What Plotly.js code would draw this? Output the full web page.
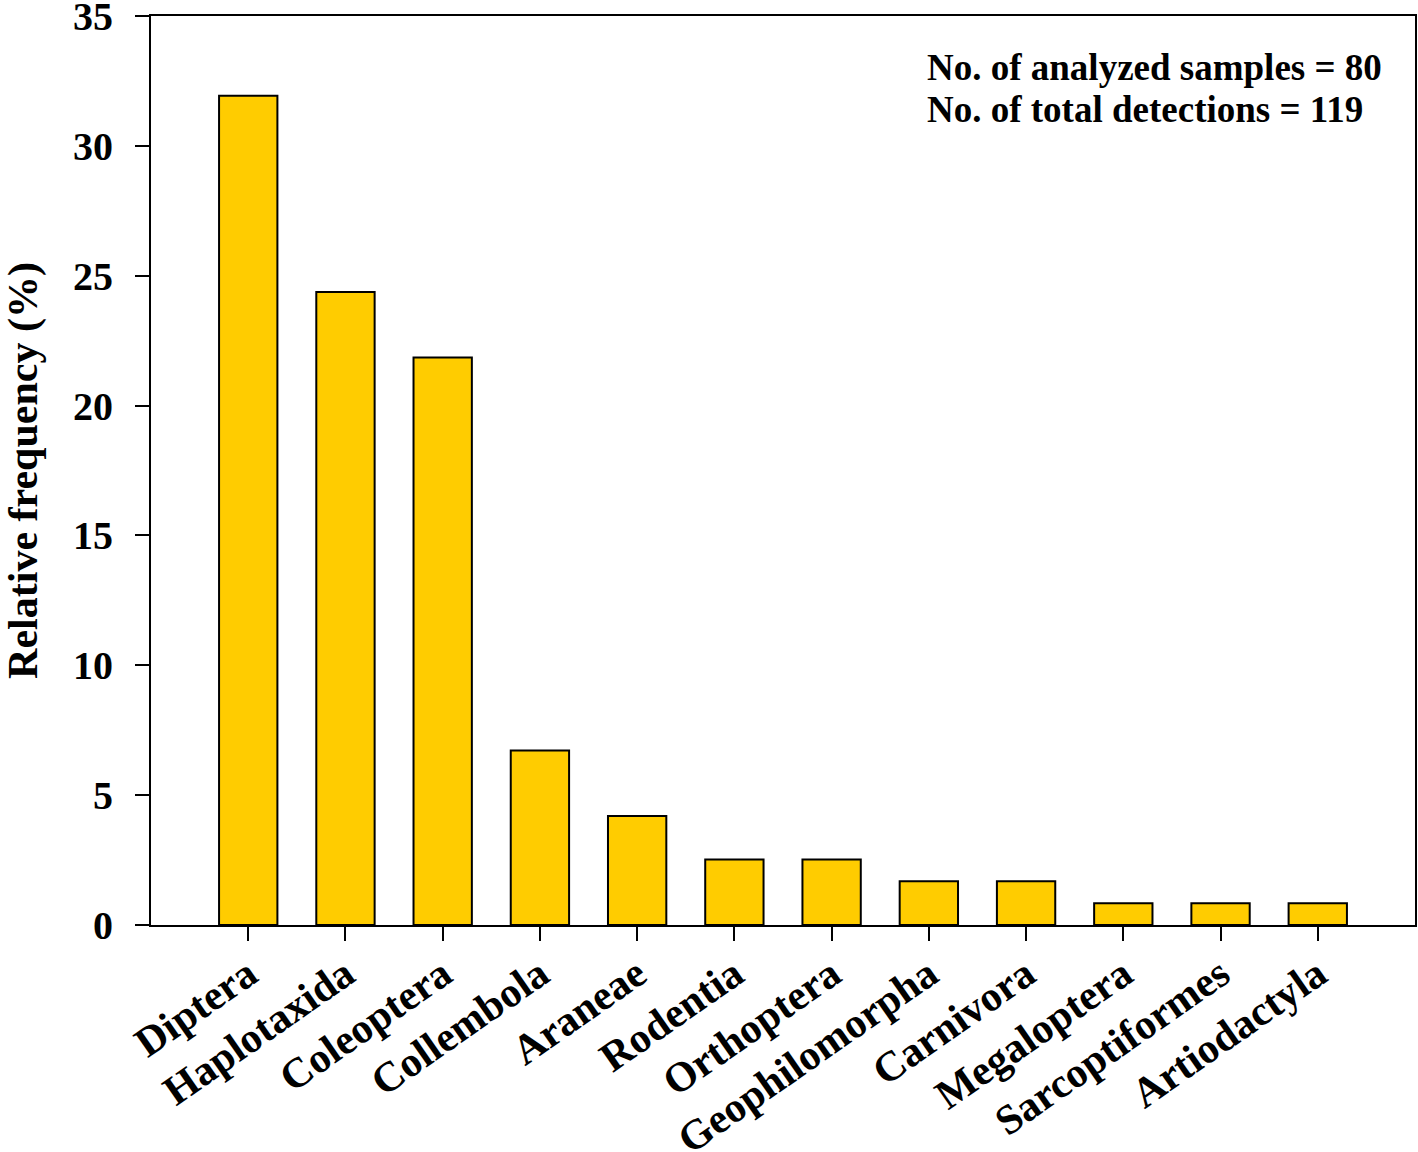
<!DOCTYPE html>
<html>
<head>
<meta charset="utf-8">
<script src="https://cdn.plot.ly/plotly-3.0.1.min.js"></script>
<style>html,body{margin:0;padding:0;background:#fff;}</style>
</head>
<body>
<div id="chart" style="width:1418px;height:1152px;"></div>
<script>
const categories = ["Diptera","Haplotaxida","Coleoptera","Collembola","Araneae","Rodentia","Orthoptera","Geophilomorpha","Carnivora","Megaloptera","Sarcoptiformes","Artiodactyla"];
const relFreq = [31.93, 24.37, 21.85, 6.72, 4.20, 2.52, 2.52, 1.68, 1.68, 0.84, 0.84, 0.84];
const yTicks = [0, 5, 10, 15, 20, 25, 30, 35];
const noteLines = ["No. of analyzed samples = 80", "No. of total detections = 119"];
const yTitle = "Relative frequency (%)";

const serif = "Liberation Serif, Times New Roman, serif";

const trace = {
  type: "bar",
  x: categories,
  y: relFreq,
  marker: {color: "#FFCC00", line: {color: "#000", width: 2}},
  hoverinfo: "x+y"
};

const layout = {
  width: 1418, height: 1152,
  margin: {l: 151, r: 3, t: 16, b: 227},
  paper_bgcolor: "#fff", plot_bgcolor: "#fff",
  showlegend: false,
  bargap: 0.4,
  font: {family: serif, color: "#000"},
  xaxis: {
    type: "category",
    range: [-1, 12],
    showline: true, linecolor: "#000", linewidth: 2, mirror: true,
    ticks: "outside", ticklen: 14, tickwidth: 2, tickcolor: "#000",
    tickangle: -35,
    tickfont: {family: serif, size: 42, weight: "bold", color: "#000"},
    ticklabeloverflow: "allow",
    ticklabelstandoff: -8,
    showgrid: false, zeroline: false
  },
  yaxis: {
    range: [0, 35],
    tickvals: yTicks,
    ticktext: yTicks.map(String),
    showline: true, linecolor: "#000", linewidth: 2, mirror: true,
    ticks: "outside", ticklen: 14, tickwidth: 2, tickcolor: "#000",
    tickfont: {family: serif, size: 40, weight: "bold", color: "#000"},
    ticklabelstandoff: 14,
    ticklabeloverflow: "allow",
    showgrid: false, zeroline: false,
    title: {text: yTitle, font: {family: serif, size: 42, weight: "bold", color: "#000"}, standoff: 27}
  },
  annotations: noteLines.map((t, i) => ({
    text: t,
    xref: "paper", yref: "paper",
    x: 0.6125, y: i === 0 ? 0.943 : 0.897,
    xanchor: "left", yanchor: "middle",
    showarrow: false,
    font: {family: serif, size: 37, weight: "bold", color: "#000"}
  }))
};

Plotly.newPlot("chart", [trace], layout, {displayModeBar: false, staticPlot: true});
</script>
</body>
</html>
